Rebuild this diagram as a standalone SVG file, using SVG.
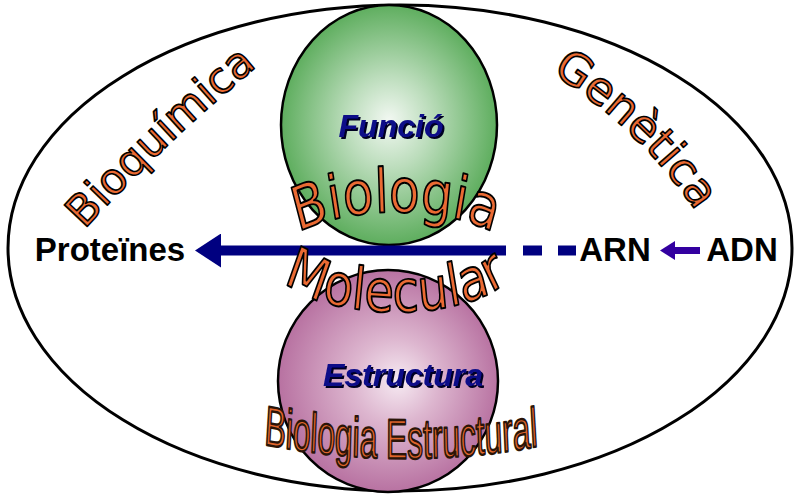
<svg xmlns="http://www.w3.org/2000/svg" width="800" height="496" viewBox="0 0 800 496">
  <style>
    .arc { font-family: "DejaVu Sans", Verdana, sans-serif; fill: #EA6A33; stroke: #000; stroke-width: 1.6; stroke-linejoin: round; }
    .lbl { font-family: "Liberation Sans", Arial, sans-serif; font-weight: bold; font-size: 33px; fill: #000; text-anchor: middle; }
    .sph { font-family: "Liberation Sans", Arial, sans-serif; font-weight: bold; font-style: italic; font-size: 32px; text-anchor: middle; fill: #0C0C88; filter: url(#shadow); }
  </style>
  <defs>
    <filter id="shadow" x="-10%" y="-20%" width="125%" height="150%">
      <feDropShadow dx="2" dy="2" stdDeviation="0.4" flood-color="#000020" flood-opacity="1"/>
    </filter>
    <radialGradient id="gGreen" cx="0.5" cy="0.5" r="0.55" fx="0.5" fy="0.48">
      <stop offset="0" stop-color="#F2F8F2"/>
      <stop offset="0.35" stop-color="#BCDDBC"/>
      <stop offset="1" stop-color="#4FA64F"/>
    </radialGradient>
    <radialGradient id="gPink" cx="0.5" cy="0.5" r="0.55" fx="0.55" fy="0.5">
      <stop offset="0" stop-color="#F6EAF2"/>
      <stop offset="0.35" stop-color="#DDB6CF"/>
      <stop offset="1" stop-color="#B2679A"/>
    </radialGradient>
    <marker id="headMain" markerUnits="userSpaceOnUse" markerWidth="26" markerHeight="34" viewBox="0 0 26 34" refX="3" refY="17" orient="auto">
      <path d="M0,0 L26,17 L0,34 z" fill="#000080"/>
    </marker>
    <marker id="headSmall" markerUnits="userSpaceOnUse" markerWidth="15" markerHeight="19" viewBox="0 0 15 19" refX="2" refY="9.5" orient="auto">
      <path d="M0,0 L15,9.5 L0,19 z" fill="#3300A0"/>
    </marker>
    <path id="pBioq" d="M82,232 Q165,142 260,64"/>
    <path id="pGen" d="M550,72 Q640,128 697,213"/>
    <path id="pBiol" d="M276,262 A120,41 0 0 1 516,262"/>
    <path id="pMol" d="M276,262 A120,41 0 0 0 516,262"/>
    <path id="pBE" d="M158,444 Q400,472 646,446"/>
  </defs>

  <g id="frame">
    <ellipse cx="400" cy="248" rx="392" ry="243" fill="#FFFFFF" stroke="#000" stroke-width="3"/>
  </g>

  <g id="node-funcio">
    <ellipse cx="389" cy="125" rx="108" ry="120" fill="url(#gGreen)" stroke="#000" stroke-width="2.5"/>
    <text class="sph" x="391" y="137">Funció</text>
  </g>

  <g id="node-estructura">
    <ellipse cx="388" cy="381" rx="110" ry="111" fill="url(#gPink)" stroke="#000" stroke-width="2.5"/>
    <text class="sph" x="403" y="386">Estructura</text>
  </g>

  <g id="connectors">
    <path d="M506,250.5 L218,250.5" stroke="#000080" stroke-width="10" fill="none" marker-end="url(#headMain)"/>
    <path d="M523,250.5 L576,250.5" stroke="#000080" stroke-width="10" fill="none" stroke-dasharray="19 16"/>
    <path d="M700,250.5 L673,250.5" stroke="#3300A0" stroke-width="7" fill="none" marker-end="url(#headSmall)"/>
  </g>

  <g id="node-proteines"><text class="lbl" x="110" y="261">Proteïnes</text></g>
  <g id="node-arn"><text class="lbl" x="615" y="261">ARN</text></g>
  <g id="node-adn"><text class="lbl" x="742" y="261">ADN</text></g>

  <g id="label-bioquimica">
    <text class="arc" font-size="43"><textPath href="#pBioq" startOffset="50%" text-anchor="middle">Bioquímica</textPath></text>
  </g>
  <g id="label-genetica">
    <text class="arc" font-size="45"><textPath href="#pGen" startOffset="50%" text-anchor="middle">Genètica</textPath></text>
  </g>
  <g id="label-biologia-molecular" transform="translate(0 262) scale(1 1.22) translate(0 -262)">
    <text class="arc" font-size="50"><textPath href="#pBiol" startOffset="50%" text-anchor="middle">Biologia</textPath></text>
    <text class="arc" font-size="48"><textPath href="#pMol" startOffset="50%" text-anchor="middle">Molecular</textPath></text>
  </g>
  <g id="label-biologia-estructural" transform="translate(400 0) scale(0.57 1) translate(-400 0)">
    <text font-family="'Liberation Sans', Arial, sans-serif" font-size="56" fill="#E2652C" stroke="#2A1408" stroke-width="2.4" stroke-linejoin="round"><textPath href="#pBE" startOffset="50%" text-anchor="middle">Biologia Estructural</textPath></text>
  </g>
</svg>
